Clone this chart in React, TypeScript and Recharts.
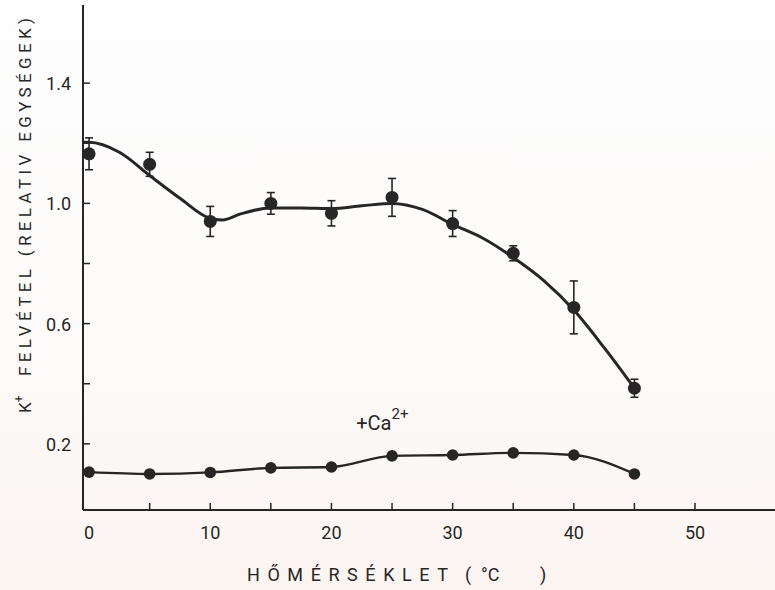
import React from 'react';
import { ComposedChart, Line, XAxis, YAxis, ErrorBar, ReferenceDot } from 'recharts';

const INK = '#262626';
const FONT = 'Roboto, "DejaVu Sans", sans-serif';

// measured points
const temps = [0, 5, 10, 15, 20, 25, 30, 35, 40, 45];
const uptake = [1.165, 1.13, 0.94, 1.0, 0.967, 1.02, 0.933, 0.834, 0.654, 0.385];
const uptakeErr = [0.053, 0.04, 0.05, 0.036, 0.042, 0.063, 0.043, 0.025, 0.088, 0.03];
const uptakeCa = [0.106, 0.1, 0.105, 0.12, 0.123, 0.16, 0.163, 0.17, 0.163, 0.1];

// hand-drawn fitted curve through the K+ points
const fitTemps = [-0.5, 0, 2.5, 5, 7.5, 10, 11, 12.5, 15, 17.5, 20, 22.5, 25, 27.5, 30, 32.5, 35, 37.5, 40, 42.5, 45];
const fitUptake = [1.203, 1.203, 1.17, 1.093, 1.017, 0.95, 0.945, 0.965, 0.985, 0.985, 0.983, 0.992, 1.0, 0.98, 0.93, 0.884, 0.82, 0.744, 0.645, 0.52, 0.385];

const xTicks = [0, 5, 10, 15, 20, 25, 30, 35, 40, 45, 50];
const xTickLabels = ['0', '10', '20', '30', '40', '50'];
const yTicks = [0.2, 0.4, 0.6, 0.8, 1.0, 1.2, 1.4];
const yTickLabels = ['0.2', '0.6', '1.0', '1.4'];

const points = temps.map((t, i) => ({ x: t, y: uptake[i], err: uptakeErr[i] }));
const fit = fitTemps.map((t, i) => ({ x: t, y: fitUptake[i] }));
const withCa = temps.map((t, i) => ({ x: t, y: uptakeCa[i] }));

const XTick = (props: any) => {
  const { x, y, payload } = props;
  const v = payload.value;
  const label = String(v);
  return (
    <g>
      {v > 0 && <line x1={x} y1={y} x2={x} y2={y - 7} stroke={INK} strokeWidth={1.5} />}
      {xTickLabels.includes(label) && (
        <text x={x} y={y + 29} textAnchor="middle" fontSize={18} fontFamily={FONT} fill={INK}>
          {label}
        </text>
      )}
    </g>
  );
};

const YTick = (props: any) => {
  const { x, y, payload } = props;
  const label = Number(payload.value).toFixed(1);
  return (
    <g>
      <line x1={x} y1={y} x2={x + 7} y2={y} stroke={INK} strokeWidth={1.5} />
      {yTickLabels.includes(label) && (
        <text x={x - 12} y={y + 7} textAnchor="end" fontSize={18} fontFamily={FONT} fill={INK}>
          {label}
        </text>
      )}
    </g>
  );
};

const Titles = () => (
  <g fontFamily={FONT} fill={INK}>
    <text x={247} y={581} fontSize={18} textLength={201} lengthAdjust="spacing">
      HŐMÉRSÉKLET
    </text>
    <text x={465} y={581} fontSize={18}>(</text>
    <text x={481} y={581} fontSize={18}>°C</text>
    <text x={540} y={581} fontSize={18}>)</text>
    <g transform="translate(31, 413) rotate(-90)">
      <text x={0} y={0} fontSize={17}>
        K<tspan dy={-8} fontSize={12}>+</tspan>
      </text>
    </g>
    <g transform="translate(31, 376) rotate(-90)">
      <text x={0} y={0} fontSize={17} textLength={358} lengthAdjust="spacing">
        FELVÉTEL (RELATIV EGYSÉGEK)
      </text>
    </g>
  </g>
);

const CaLabel = (props: any) => {
  const { viewBox } = props;
  return (
    <text x={viewBox.x} y={viewBox.y} textAnchor="middle" fontSize={20} fontFamily={FONT} fill={INK}>
      +Ca<tspan dy={-11} fontSize={15}>2+</tspan>
    </text>
  );
};

export default function App() {
  return (
    <div
      style={{
        position: 'absolute',
        left: 0,
        top: 0,
        width: 775,
        height: 590,
        background: 'linear-gradient(#fefefe 0%, #fdfbfa 50%, #fbf5f2 100%)',
      }}
    >
      <ComposedChart width={775} height={590} margin={{ top: 5, right: 0, bottom: 0, left: 0 }}>
        <XAxis
          type="number"
          dataKey="x"
          domain={[-0.5, 56.6]}
          ticks={xTicks}
          allowDataOverflow
          height={80}
          tickSize={0}
          tickMargin={0}
          tick={<XTick />}
          axisLine={{ stroke: INK, strokeWidth: 2 }}
          label={{ content: () => <Titles /> }}
        />
        <YAxis
          type="number"
          dataKey="y"
          domain={[-0.02, 1.66]}
          ticks={yTicks}
          allowDataOverflow
          width={83}
          tickSize={0}
          tickMargin={0}
          tick={<YTick />}
          axisLine={{ stroke: INK, strokeWidth: 2 }}
        />
        <Line
          data={fit}
          dataKey="y"
          type="monotone"
          stroke={INK}
          strokeWidth={3}
          dot={false}
          activeDot={false}
          isAnimationActive={false}
        />
        <Line
          data={points}
          dataKey="y"
          stroke="none"
          dot={{ r: 6.5, fill: INK, stroke: 'none' }}
          activeDot={false}
          isAnimationActive={false}
        >
          <ErrorBar dataKey="err" width={4} stroke={INK} strokeWidth={1.6} />
        </Line>
        <Line
          data={withCa}
          dataKey="y"
          type="monotone"
          stroke={INK}
          strokeWidth={2.4}
          dot={{ r: 5.8, fill: INK, stroke: 'none' }}
          activeDot={false}
          isAnimationActive={false}
        />
        <ReferenceDot x={24.2} y={0.245} r={0} fill="none" stroke="none" label={<CaLabel />} />
      </ComposedChart>
    </div>
  );
}
